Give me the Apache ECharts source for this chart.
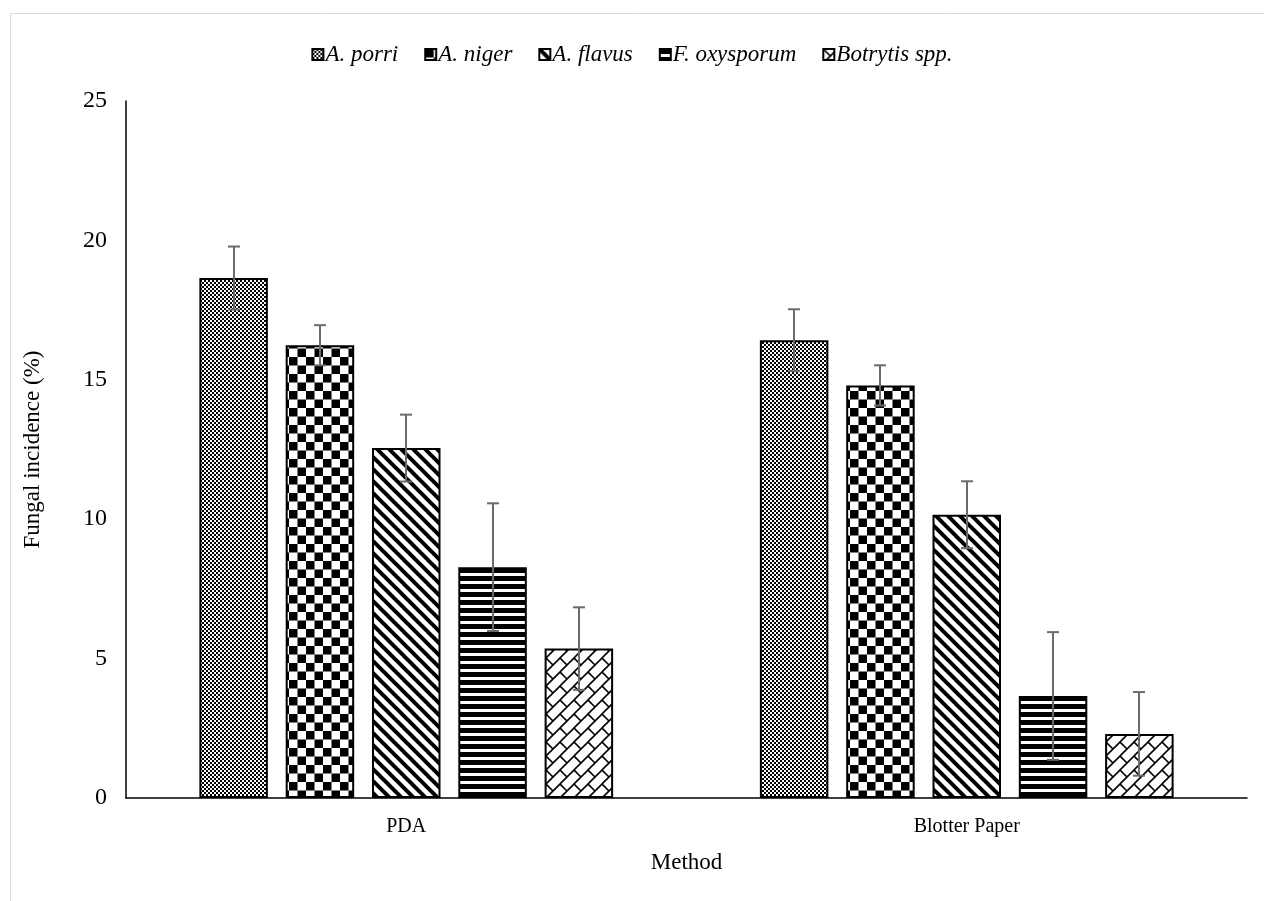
<!DOCTYPE html>
<html>
<head>
<meta charset="utf-8">
<script src="https://cdn.jsdelivr.net/npm/echarts@6/dist/echarts.min.js"></script>
<style>
  html, body { margin: 0; padding: 0; background: #fff; }
  #chart { width: 1264px; height: 901px; }
</style>
</head>
<body>
<div id="chart"></div>
<script>
// Fungal incidence (%) by detection method
const categories = ['PDA', 'Blotter Paper'];
const speciesNames = ['A. porri', 'A. niger', 'A. flavus', 'F. oxysporum', 'Botrytis spp.'];

const porriValues = [18.65, 16.42];
const nigerValues = [16.24, 14.80];
const flavusValues = [12.55, 10.16];
const oxysporumValues = [8.28, 3.66];
const botrytisValues = [5.36, 2.30];

const porriErrors = [1.13, 1.11];
const nigerErrors = [0.72, 0.72];
const flavusErrors = [1.20, 1.20];
const oxysporumErrors = [2.29, 2.29];
const botrytisErrors = [1.48, 1.50];

const yTickValues = [0, 5, 10, 15, 20, 25];

const allValues = [porriValues, nigerValues, flavusValues, oxysporumValues, botrytisValues];
const allErrors = [porriErrors, nigerErrors, flavusErrors, oxysporumErrors, botrytisErrors];

// ---- hatch fills drawn on small tiles ----
function tile(size, draw) {
  const c = document.createElement('canvas');
  c.width = size; c.height = size;
  const ctx = c.getContext('2d');
  ctx.fillStyle = '#fff';
  ctx.fillRect(0, 0, size, size);
  ctx.fillStyle = '#000';
  ctx.strokeStyle = '#000';
  draw(ctx, size);
  return c;
}
const fills = [
  // fine checker
  tile(4, (ctx) => { ctx.fillRect(0, 0, 2, 2); ctx.fillRect(2, 2, 2, 2); }),
  // large checker
  tile(17, (ctx) => { ctx.fillRect(0, 0, 8.5, 8.5); ctx.fillRect(8.5, 8.5, 8.5, 8.5); }),
  // wide downward diagonal
  tile(12, (ctx, s) => {
    ctx.lineWidth = 4;
    for (let k = -1; k <= 1; k++) {
      ctx.beginPath();
      ctx.moveTo(k * s - 2, -2);
      ctx.lineTo(k * s + s + 2, s + 2);
      ctx.stroke();
    }
  }),
  // wide horizontal
  tile(8, (ctx) => { ctx.fillRect(0, 0, 8, 5); }),
  // diagonal brick
  tile(14, (ctx, s) => {
    ctx.lineWidth = 1.6;
    for (let k = 0; k <= 2; k++) {
      const c = k * s;
      ctx.beginPath();
      ctx.moveTo(c + 2, -2);
      ctx.lineTo(-2, c + 2);
      ctx.stroke();
    }
    ctx.beginPath();
    ctx.moveTo(0, 0);
    ctx.lineTo(s / 2, s / 2);
    ctx.stroke();
  })
];

const BAR_WIDTH = 68.5;
const BAR_GAP = 0.26;
const FONT = '"Liberation Serif", "Times New Roman", serif';

const barSeries = speciesNames.map((name, i) => ({
  name: name,
  type: 'bar',
  data: allValues[i],
  barWidth: BAR_WIDTH,
  barGap: (BAR_GAP * 100) + '%',
  itemStyle: {
    color: { image: fills[i], repeat: 'repeat' },
    borderColor: '#000',
    borderWidth: 2
  },
  emphasis: { disabled: true }
}));

const errorSeries = speciesNames.map((name, i) => ({
  name: name + ' error',
  type: 'custom',
  data: categories.map((c, j) => [j, allValues[i][j], allErrors[i][j]]),
  encode: { x: 0, y: 1 },
  z: 5,
  silent: true,
  renderItem: function (params, api) {
    const cat = api.value(0);
    const v = api.value(1);
    const e = api.value(2);
    const offset = (i - (speciesNames.length - 1) / 2) * BAR_WIDTH * (1 + BAR_GAP);
    const hi = api.coord([cat, v + e]);
    const lo = api.coord([cat, v - e]);
    const x = Math.round(hi[0] + offset);
    const cap = 6;
    const style = { stroke: '#6b6b6b', lineWidth: 2 };
    return {
      type: 'group',
      children: [
        { type: 'line', shape: { x1: x, y1: hi[1], x2: x, y2: lo[1] }, style: style },
        { type: 'line', shape: { x1: x - cap, y1: hi[1], x2: x + cap, y2: hi[1] }, style: style },
        { type: 'line', shape: { x1: x - cap, y1: lo[1], x2: x + cap, y2: lo[1] }, style: style }
      ]
    };
  }
}));

const chart = echarts.init(document.getElementById('chart'), null, { renderer: 'canvas' });
chart.setOption({
  animation: false,
  backgroundColor: '#fff',
  textStyle: { fontFamily: FONT, color: '#000' },
  graphic: [{
    type: 'rect',
    z: -10,
    shape: { x: 10.5, y: 13.5, width: 1400, height: 1000 },
    style: { fill: null, stroke: '#d9d9d9', lineWidth: 1 }
  }],
  legend: {
    data: speciesNames,
    top: 38,
    left: 'center',
    icon: 'rect',
    itemWidth: 11,
    itemHeight: 11,
    itemGap: 26,
    textStyle: { fontFamily: FONT, fontStyle: 'italic', fontSize: 23, color: '#000', padding: [0, 0, 0, -3] },
    selectedMode: false
  },
  grid: { left: 126, right: 17, top: 101, bottom: 103, containLabel: false },
  xAxis: {
    type: 'category',
    data: categories,
    name: 'Method',
    nameLocation: 'middle',
    nameGap: 53,
    nameTextStyle: { fontFamily: FONT, fontSize: 23, color: '#000' },
    axisLine: { lineStyle: { color: '#000', width: 1.5 } },
    axisTick: { show: false },
    axisLabel: { fontFamily: FONT, fontSize: 20, color: '#000', margin: 19 }
  },
  yAxis: {
    type: 'value',
    min: yTickValues[0],
    max: yTickValues[yTickValues.length - 1],
    interval: yTickValues[1] - yTickValues[0],
    name: 'Fungal incidence (%)',
    nameLocation: 'middle',
    nameGap: 82,
    nameTextStyle: { fontFamily: FONT, fontSize: 23, color: '#000' },
    axisLine: { show: true, lineStyle: { color: '#000', width: 1.5 } },
    axisTick: { show: false },
    splitLine: { show: false },
    axisLabel: { fontFamily: FONT, fontSize: 24, color: '#000', margin: 19 }
  },
  series: barSeries.concat(errorSeries)
});
</script>
</body>
</html>
